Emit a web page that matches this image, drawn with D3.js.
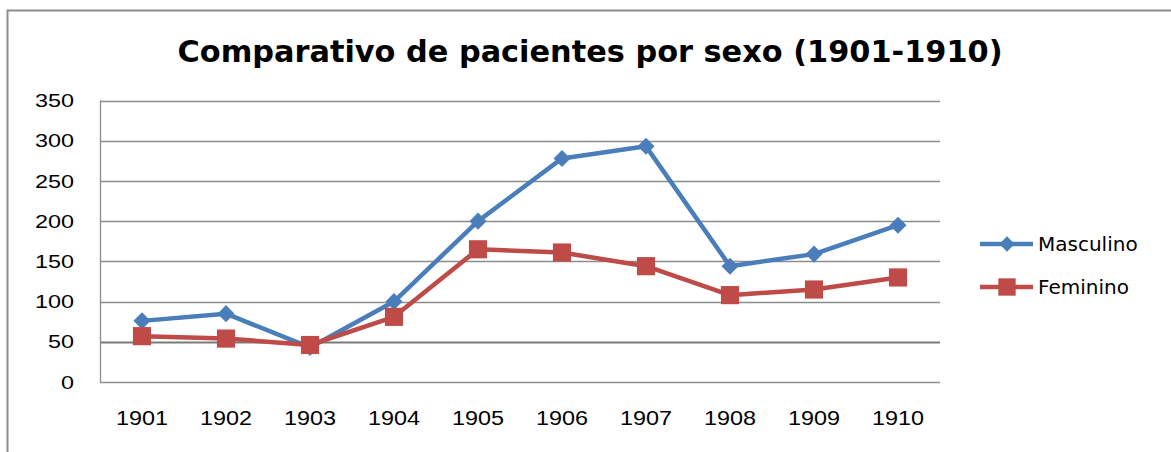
<!DOCTYPE html>
<html>
<head>
<meta charset="utf-8">
<script src="https://cdn.jsdelivr.net/npm/d3@7"></script>
<style>
  body { margin: 0; background: #fff; }
  svg { display: block; font-family: "DejaVu Sans", Verdana, sans-serif; }
</style>
</head>
<body>
<svg width="1171" height="452"></svg>
<script>
// data
var years = ["1901", "1902", "1903", "1904", "1905", "1906", "1907", "1908", "1909", "1910"];
var masculino = [76, 85, 43, 100, 200, 278, 293, 144, 159, 195];
var feminino = [57, 54, 46, 81, 165, 161, 144, 108, 115, 130];
var yTicks = [0, 50, 100, 150, 200, 250, 300, 350];
var seriesNames = ["Masculino", "Feminino"];

var svg = d3.select("svg");
var plot = { left: 100, right: 940, top: 100.5, bottom: 382 };

var x = d3.scaleBand().domain(years).range([plot.left, plot.right]);
var y = d3.scaleLinear().domain([0, 350]).range([plot.bottom, plot.top]);

// outer frame
svg.append("path")
    .attr("d", "M7.5,452 V10.5 H1171")
    .attr("fill", "none")
    .attr("stroke", "#8c8c8c")
    .attr("stroke-width", 2);

// title
svg.append("text")
    .attr("x", 590).attr("y", 62)
    .attr("text-anchor", "middle")
    .attr("font-size", 30)
    .attr("font-weight", "bold")
    .attr("textLength", 825)
    .attr("lengthAdjust", "spacingAndGlyphs")
    .attr("fill", "#000")
    .text("Comparativo de pacientes por sexo (1901-1910)");

// grid
svg.append("g").selectAll("line")
    .data(yTicks)
  .enter().append("line")
    .attr("x1", plot.left).attr("x2", plot.right)
    .attr("y1", function(d) { return Math.round(y(d)) + 0.5; })
    .attr("y2", function(d) { return Math.round(y(d)) + 0.5; })
    .attr("stroke", function(d) { return d == 50 ? "#7a7a7a" : "#8c8c8c"; })
    .attr("stroke-width", function(d) { return d == 50 ? 2 : 1.3; });

// vertical axis line
svg.append("line")
    .attr("x1", plot.left + 0.5).attr("x2", plot.left + 0.5)
    .attr("y1", plot.top).attr("y2", plot.bottom)
    .attr("stroke", "#8c8c8c").attr("stroke-width", 1.3);

// y labels (wide, light digits like the original)
var yAxis = d3.axisLeft(y).tickValues(yTicks).tickSize(0).tickPadding(26);
var gy = svg.append("g").attr("transform", "translate(" + plot.left + ",0)").call(yAxis);
gy.select(".domain").remove();
gy.selectAll("text")
    .attr("font-size", 19).attr("fill", "#000").attr("font-family", null)
    .attr("textLength", function(d) { return String(d).length * 13; })
    .attr("lengthAdjust", "spacingAndGlyphs");

// x labels
var xAxis = d3.axisBottom(x).tickSize(0).tickPadding(29);
var gx = svg.append("g").attr("transform", "translate(0," + plot.bottom + ")").call(xAxis);
gx.select(".domain").remove();
gx.selectAll("text")
    .attr("font-size", 20).attr("fill", "#000").attr("font-family", null)
    .attr("textLength", 52)
    .attr("lengthAdjust", "spacingAndGlyphs");

var line = d3.line()
    .x(function(d, i) { return x(years[i]) + x.bandwidth() / 2; })
    .y(function(d) { return y(d); });

var blue = "#4a7ebb", red = "#be4b48";

function drawSeries(values, color, shape, size) {
  var g = svg.append("g");
  g.append("path")
      .datum(values)
      .attr("d", line)
      .attr("fill", "none")
      .attr("stroke", color)
      .attr("stroke-width", 4.5)
      .attr("stroke-linejoin", "round");
  g.selectAll("path.m")
      .data(values)
    .enter().append("path")
      .attr("class", "m")
      .attr("d", d3.symbol().type(shape).size(size))
      .attr("transform", function(d, i) {
        return "translate(" + (x(years[i]) + x.bandwidth() / 2) + "," + y(d) + ")";
      })
      .attr("fill", color);
}

drawSeries(masculino, blue, d3.symbolDiamond2, 185);
drawSeries(feminino, red, d3.symbolSquare, 330);

// legend
var legend = svg.append("g").selectAll("g")
    .data(seriesNames)
  .enter().append("g")
    .attr("transform", function(d, i) { return "translate(980," + (244 + i * 43) + ")"; });
legend.append("line")
    .attr("x1", 0).attr("x2", 53)
    .attr("stroke", function(d, i) { return i == 0 ? blue : red; })
    .attr("stroke-width", 4.5);
legend.append("path")
    .attr("transform", "translate(27,0)")
    .attr("d", function(d, i) {
      return d3.symbol().type(i == 0 ? d3.symbolDiamond2 : d3.symbolSquare).size(i == 0 ? 150 : 300)();
    })
    .attr("fill", function(d, i) { return i == 0 ? blue : red; });
legend.append("text")
    .attr("x", 58).attr("y", 7)
    .attr("font-size", 20)
    .attr("fill", "#000")
    .text(function(d) { return d; });
</script>
</body>
</html>
